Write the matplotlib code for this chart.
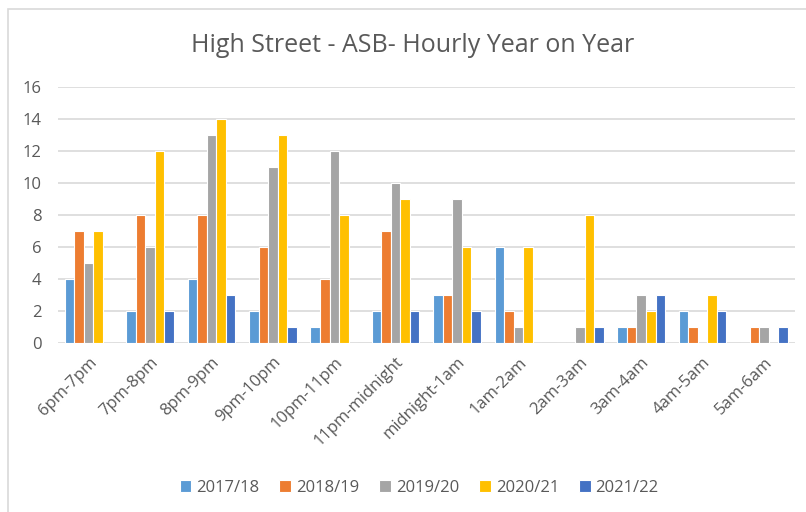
import matplotlib.pyplot as plt
import matplotlib.patches as patches
import numpy as np

plt.rcParams['font.family'] = ['Open Sans', 'DejaVu Sans']

# hour slots and yearly counts
categories = ['6pm-7pm', '7pm-8pm', '8pm-9pm', '9pm-10pm', '10pm-11pm', '11pm-midnight',
              'midnight-1am', '1am-2am', '2am-3am', '3am-4am', '4am-5am', '5am-6am']
years = ['2017/18', '2018/19', '2019/20', '2020/21', '2021/22']
y2017 = [4, 2, 4, 2, 1, 2, 3, 6, 0, 1, 2, 0]
y2018 = [7, 8, 8, 6, 4, 7, 3, 2, 0, 1, 1, 1]
y2019 = [5, 6, 13, 11, 12, 10, 9, 1, 1, 3, 0, 1]
y2020 = [7, 12, 14, 13, 8, 9, 6, 6, 8, 2, 3, 0]
y2021 = [0, 2, 3, 1, 0, 2, 2, 0, 1, 3, 2, 1]
series = [y2017, y2018, y2019, y2020, y2021]
colors = ['#5B9BD5', '#ED7D31', '#A5A5A5', '#FFC000', '#4472C4']

text_col = '#595959'
grid_col = '#D9D9D9'

fig = plt.figure(figsize=(8.06, 5.12), dpi=100)
ax = fig.add_axes([0.072, 0.330, 0.914, 0.500])

# chart border (cropped on right/bottom)
fig.patches.append(patches.Rectangle((8 / 806, -0.1), 1.2, 1 - 9 / 512 + 0.1,
                                     transform=fig.transFigure, fill=False,
                                     edgecolor=grid_col, linewidth=1.2))

x = np.arange(len(categories))
step = 0.155
for i, (vals, col, lab) in enumerate(zip(series, colors, years)):
    ax.bar(x + (i - 2) * step, vals, width=step, color=col, edgecolor='white',
           linewidth=0.8, label=lab, zorder=3)

ax.set_xlim(-0.5, len(categories) - 0.5)
ax.set_ylim(0, 16)
ax.set_yticks(range(0, 17, 2))
ax.yaxis.grid(True, color=grid_col, linewidth=1.2, zorder=0)
ax.set_axisbelow(True)
for s in ax.spines.values():
    s.set_visible(False)
ax.tick_params(length=0, colors=text_col, labelsize=12)
ax.tick_params(axis='y', pad=12)
ax.set_xticks(x)
ax.set_xticklabels(categories, rotation=45, ha='right', rotation_mode='anchor', fontsize=12)
ax.tick_params(axis='x', pad=8)

fig.text(0.512, 0.912, 'High Street - ASB- Hourly Year on Year', ha='center', va='center',
         fontsize=18, color=text_col)

leg = fig.legend(loc='center', bbox_to_anchor=(0.52, 0.047), ncol=5, frameon=False,
                 fontsize=12, handlelength=0.7, handleheight=0.7, handletextpad=0.3,
                 columnspacing=1.2)
for t in leg.get_texts():
    t.set_color(text_col)

fig.savefig('out.png', dpi=100)
